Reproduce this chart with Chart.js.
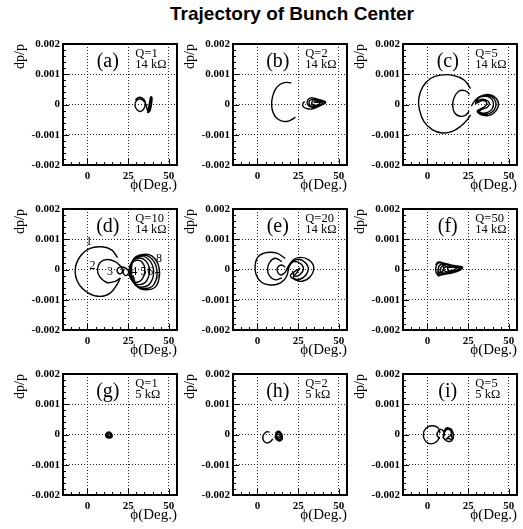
<!DOCTYPE html>
<html>
<head>
<meta charset="utf-8">
<script src="https://cdn.jsdelivr.net/npm/chart.js@4.4.0/dist/chart.umd.min.js"></script>
<style>
body { margin: 0; background: #fff; overflow: hidden; }
#page { position: relative; width: 523px; height: 529px; }
#title { position: absolute; left: 92px; top: 4px; width: 400px; text-align: center;
         font: bold 19px "Liberation Sans", Arial, sans-serif; line-height: 20px; }
.cell { position: absolute; width: 180px; height: 165px; }
.frame { position: absolute; box-sizing: border-box; border: 2px solid #000; z-index: 2; }
.tick { position: absolute; background: #000; z-index: 2; }
</style>
</head>
<body>
<div id="page"><div id="title">Trajectory of Bunch Center</div></div>
<script>
const SERIF = '"Liberation Serif", "Times New Roman", serif'

// axes
const phiTicks = [0, 25, 50]
const phiMinor = [-15, -10, -5, 0, 5, 10, 15, 20, 25, 30, 35, 40, 45, 50, 55]
const dpTicks = [-0.002, -0.001, 0, 0.001, 0.002]
const dpMinor = [-20, -18, -16, -14, -12, -10, -8, -6, -4, -2, 0, 2, 4, 6, 8, 10, 12, 14, 16, 18, 20]

// panel texts
const panelTags = ['(a)', '(b)', '(c)', '(d)', '(e)', '(f)', '(g)', '(h)', '(i)']
const panelQ = ['Q=1', 'Q=2', 'Q=5', 'Q=10', 'Q=20', 'Q=50', 'Q=1', 'Q=2', 'Q=5']
const panelR = ['14 kΩ', '14 kΩ', '14 kΩ', '14 kΩ', '14 kΩ', '14 kΩ', '5 kΩ', '5 kΩ', '5 kΩ']

// turn numbers in panel (d)
const dLabels = ['1', '2', '3', '4', '5', '6', '7', '8']
const dLabelPhi = [1.0, 3.1, 13.8, 28.8, 34.4, 38.6, 43.0, 44.0]
const dLabelDp = [9.2, 1.2, -0.9, -0.9, -0.9, -0.7, -2.5, 3.4]

// trajectories: [phi (deg), dp/p in units of 1e-4]
const curveA = [[29.4,1.4],[31,2.3],[33.5,2.2],[35.4,1.0],[35.2,-0.8],[33.2,-2.2],[30.8,-1.9],[29.2,-0.3],[30.5,1.5],[33.5,1.6],[35.8,0.2],[36.8,-1.8],[37.6,-2.6],[38.6,-1.8],[39.5,0.8],[39.6,2.3],[38.9,2.5],[38.2,0.8],[37.3,-2.0],[37.0,-2.7],[37.8,-2.0],[38.8,0.5],[39.3,2.0],[39.0,2.3],[38.4,0.5],[37.6,-1.8],[37.3,-2.5],[38.0,-1.5],[38.9,1.0],[39.2,1.8]]

const curveB1 = [[20.8,7.1],[17.5,7.3],[13.8,6.6],[11,5],[9.3,2.6],[8.7,0],[9.5,-2.5],[11.6,-4.4],[14.6,-5.4],[18,-5.6],[21,-5.0],[23.3,-4.2]]
const curveB2 = [[29,1.0],[27.8,0.2],[28.2,-0.8],[30,-1.3],[33,-1.5],[37,-0.8],[40.5,0.1],[42,0.7],[40,1.3],[36.5,1.8],[32.8,2.2],[30.8,1.4],[31,-0.1],[34,-1.0],[38,-0.4],[41.2,0.5],[38.5,1.3],[35,1.7],[32.2,1.4],[31.8,0.2],[33.5,-0.6],[37,-0.5],[40,0.4],[37.8,1.0],[34.2,1.2],[33.4,0.3],[35.5,-0.3],[38.5,0.3],[36,0.8],[34.5,0.6]]

const curveC1 = [[26.5,5.3],[22.5,8.1],[15.2,9.7],[8,9.7],[1.9,8.6],[-2.8,5.9],[-5.3,2.1],[-4.9,-1.7],[-2.2,-5.6],[2.9,-8.3],[9.1,-9.4],[15.2,-8.9],[20.4,-7.2],[24.5,-5.0],[26.5,-3.4]]
const curveC2 = [[26,3.4],[23,4.6],[19,4.3],[16.2,2],[15.5,-0.5],[16.8,-2.8],[20,-3.9],[23.5,-3.5],[25.6,-2.2]]
const curveC3 = [[27,-0.5],[29,1.2],[32,2.6],[36.5,3.3],[40.5,2.8],[43.5,0.8],[42.5,-1.8],[39,-3.4],[34.5,-3.6],[31,-2.5],[33.5,-1.6],[37,-0.8],[38,0.5],[35.5,1.6],[32,1.5],[29.5,0.3],[31.5,2.2],[35.5,3.0],[39.5,2.6],[42,0.9],[41.2,-1.6],[38,-3.0],[34,-3.2],[30.5,-2.2],[33.5,-1.2],[36,-0.3],[36.2,0.8],[33.5,1.3],[30.5,0.6],[30.5,2.0],[34.5,2.7],[38.5,2.3],[40.5,0.7],[39.8,-1.4],[37,-2.6],[33.5,-2.8],[31,-1.9]]

const curveD1 = [[18.5,3.9],[15,6.4],[8.8,7.5],[1.6,7.0],[-4.5,4.3],[-7.5,0],[-5.6,-4.5],[0.6,-7.8],[7.8,-8.9],[14,-7.8],[18.1,-5.0],[20.2,-2.8]]
const curveD2 = [[20.2,-2.8],[17,-3.9],[12,-4.3],[7.4,-2.3],[6.2,0],[7.8,2.3],[12,3.3],[17,2.6],[20.6,1.0]]
const curveD3 = [[20.6,1.0],[21.5,-0.3],[20.5,-1.4],[18.6,-1.0],[18.3,0.1],[20.2,0.8],[23.3,0.5],[25.3,-0.7],[23.9,-2.0],[22,-1.2],[22.5,0.3]]
const curveD4 = [[25.3,-0.7],[27,1.8],[30,3.0],[33.5,2.5],[35.3,0],[33.8,-3],[30,-4.2],[26.5,-3],[25.5,-0.5],[27,2.3],[30.5,3.7],[35,3.2],[38,0.3],[36.5,-3.6],[32,-5],[27.5,-3.8],[26,-0.5],[27.5,2.8],[31,4.2],[36.5,3.8],[40.5,0.3],[39,-4.2],[34,-5.8],[28.5,-4.6],[26.5,-0.8],[28,3.2],[32,4.6],[38,4.2],[42.5,0.4],[41,-4.8],[35.5,-6.3],[29.5,-5.2],[27,-1],[28.5,3.5],[33,4.9],[39.5,4.5],[44,0.5],[42.5,-5.3],[36.5,-6.7],[30.5,-5.6],[28,-2]]

const curveE1 = [[17.1,3.7],[11.9,5.4],[5.8,5.6],[0.6,4.3],[-1.4,1.5],[-0.8,-1.7],[2.7,-4.3],[7.8,-5.1],[13,-4.7],[16.5,-3.4],[18.5,-1.5]]
const curveE2 = [[18.5,-1.5],[19.5,1.0],[22,3.2],[26.3,4.0],[31.5,3.2],[34.6,0.8],[32.5,-2.3],[27.4,-3.9],[23.3,-3.4],[20.2,-2.1],[22.5,-0.8],[25.5,0.2]]
const curveE3 = [[15,2.6],[10.9,3.7],[7.4,2.3],[6.2,0.1],[7.4,-2.1],[10.9,-3.4],[15,-2.8]]
const curveE4 = [[17,-1],[20,1.5],[23.5,3.2],[27.5,3.0],[31.2,0.6],[29.5,-2.0],[25.5,-3.3],[22,-2.6],[24,-1.2],[26,0.5]]
const curveE5 = [[17.1,0.8],[14.5,1.5],[12.2,0.5],[12.5,-1.0],[14.5,-1.8],[17,-1.0]]
const curveE6 = [[18,0],[20.5,2.2],[24.5,2.5],[28.2,0.6],[26.5,-1.5],[23,-2.2],[21.5,-0.5]]

const curveF = [[5,1.5],[6.5,2.4],[9,2.1],[10,0.5],[8,-1.8],[6.5,-2.0],[5,0],[7,2.2],[12,1.8],[16,1.3],[21.5,0.8],[20,-0.2],[16,-1.0],[11,-1.5],[7.5,-1.7],[6.5,0],[8.5,1.8],[13,1.6],[19,1.0],[21,0.3],[17,-0.6],[12,-1.2],[8.5,-0.8],[8.5,0.8],[11,1.5],[15,1.2],[20,0.6],[18,-0.3],[14,-0.8],[10.5,-0.5],[10.5,0.7],[14,1.0],[18,0.6],[16,-0.2],[13,-0.4],[12.5,0.5],[15.5,0.7],[19.5,0.4],[17.5,-0.5],[13.5,-1.0],[9.5,-1.2],[7,-0.8],[7.2,1.2],[10,2.0],[14.5,1.5]]

const curveG = [[11.5,0.3],[12.5,0.8],[14,0.7],[15.2,-0.2],[14.8,-1.0],[13.2,-1.2],[11.6,-0.8],[11.2,0],[12.3,0.6],[14.2,0.4],[14.8,-0.6],[13.5,-1.0],[12,-0.6],[12,0.2],[13.3,0.4],[14.2,-0.3],[13.2,-0.7],[12.6,-0.2],[13.4,0]]

const curveH1 = [[7.4,0.8],[5.5,0.9],[3.5,-0.3],[3.6,-1.8],[5.2,-2.7],[7.5,-2.5],[9.5,-1.5]]
const curveH2 = [[11,0.3],[12.3,1.0],[14,0.8],[15.3,-0.6],[14.8,-1.8],[13,-2.1],[11.3,-1.4],[11.0,-0.3],[12.5,0.6],[14.3,0.2],[14.6,-1.2],[13.2,-1.7],[11.8,-1.0],[12.2,0],[13.6,-0.2],[13.8,-1.0],[12.8,-1.2],[12.6,-0.5]]

const curveI1 = [[7.8,0.4],[6.5,2.2],[2.7,2.9],[-1.0,2.0],[-2.5,0],[-1.2,-2.2],[2.1,-3.1],[5.5,-2.4],[7.5,-0.8]]
const curveI2 = [[7.5,-1.4],[5.9,-0.2],[7,1.3],[8.8,1.6],[10.4,0.3],[9.5,-1.2]]
const curveI3 = [[10,0.5],[11,1.9],[13,2.2],[15.2,1.2],[16,-0.5],[15,-2.0],[12.8,-2.3],[10.5,-1.6],[9.8,-0.4],[11.5,1.5],[13.5,1.6],[14.8,0.4],[13.5,-0.6],[11.5,-1.5],[13,-1.3],[15.2,-1.6],[14.8,-0.2],[15,1.5],[12.5,2.0],[10.2,0.8]]

const panelCurves = [
    [curveA],
    [curveB1, curveB2],
    [curveC1, curveC2, curveC3],
    [curveD1, curveD2, curveD3, curveD4],
    [curveE1, curveE2, curveE3, curveE4, curveE5, curveE6],
    [curveF],
    [curveG],
    [curveH1, curveH2],
    [curveI1, curveI2, curveI3]
]

const colLeft = [0, 170, 340]
const rowTop = [30, 195, 360]

// frame, inward ticks, tick labels and panel texts, placed with the chart's scales
const makeTexts = idx => ({
    id: 'texts' + idx,
    afterDraw(chart) {
        const { ctx, scales: { x, y } } = chart
        const a = chart.chartArea
        ctx.save()
        ctx.fillStyle = '#000'
        ctx.fillRect(a.left - 1, a.top - 1, a.width + 2, 2)
        ctx.fillRect(a.left - 1, a.bottom - 1, a.width + 2, 2)
        ctx.fillRect(a.left - 1, a.top - 1, 2, a.height + 2)
        ctx.fillRect(a.right - 1, a.top - 1, 2, a.height + 2)
        phiMinor.forEach(v => {
            const len = phiTicks.includes(v) ? 6 : 3
            ctx.fillRect(Math.round(x.getPixelForValue(v)), a.bottom - len, 1, len)
        })
        dpMinor.forEach(k => {
            const len = k % 10 === 0 ? 6 : 3
            ctx.fillRect(a.left, Math.round(y.getPixelForValue(k * 1e-4)), len, 1)
        })

        ctx.textBaseline = 'middle'
        ctx.font = `bold 11px ${SERIF}`
        ctx.textAlign = 'right'
        dpTicks.forEach(v => ctx.fillText(v === 0 ? '0' : v.toFixed(3), a.left - 3, y.getPixelForValue(v)))
        ctx.textAlign = 'center'
        phiTicks.forEach(v => ctx.fillText(String(v), x.getPixelForValue(v), a.bottom + 11))

        ctx.font = `20px ${SERIF}`
        ctx.fillText(panelTags[idx], x.getPixelForValue(12.5), y.getPixelForValue(0.00141))
        ctx.textAlign = 'left'
        ctx.font = `12.5px ${SERIF}`
        ctx.fillText(panelQ[idx], x.getPixelForValue(29.4), y.getPixelForValue(0.00168))
        ctx.fillText(panelR[idx], x.getPixelForValue(29.4), y.getPixelForValue(0.0013))
        if (idx === 3) {
            ctx.textAlign = 'center'
            ctx.font = `12px ${SERIF}`
            dLabels.forEach((t, i) => {
                ctx.fillText(t, x.getPixelForValue(dLabelPhi[i]), y.getPixelForValue(dLabelDp[i] * 1e-4))
            })
        }
        ctx.restore()
    }
})

const makeOptions = () => ({
    responsive: false,
    animation: false,
    events: [],
    layout: { padding: { left: 0, top: 14, right: 3, bottom: 0 } },
    plugins: { legend: { display: false }, tooltip: { enabled: false } },
    scales: {
        x: {
            type: 'linear', min: -15, max: 55,
            afterBuildTicks: s => { s.ticks = phiTicks.map(v => ({ value: v })) },
            afterFit: s => { s.height = 30 },
            grid: { color: '#222', lineWidth: 1, drawTicks: false },
            border: { display: false, dash: [1, 2] },
            ticks: { display: false },
            title: { display: true, text: 'ϕ(Deg.)', align: 'end', color: '#000',
                     font: { family: SERIF, size: 15 }, padding: { top: 0, bottom: 1 } }
        },
        y: {
            type: 'linear', min: -0.002, max: 0.002,
            afterBuildTicks: s => { s.ticks = dpTicks.map(v => ({ value: v })) },
            afterFit: s => { s.width = 63 },
            grid: {
                color: c => (c.tick && Math.abs(c.tick.value) > 0.0015) ? 'rgba(0,0,0,0)' : '#222',
                lineWidth: 1, drawTicks: false
            },
            border: { display: false, dash: [1, 2] },
            ticks: { display: false },
            title: { display: true, text: 'dp/p', align: 'end', color: '#000',
                     font: { family: SERIF, size: 14 }, padding: { top: 12, bottom: 0 } }
        }
    }
})

// same frame laid over each chart as page boxes, in case the canvas one is lost
const addFrame = (cell, chart) => {
    const a = chart.chartArea
    const box = document.createElement('div')
    box.className = 'frame'
    box.style.left = (Math.round(a.left) - 1) + 'px'
    box.style.top = (Math.round(a.top) - 1) + 'px'
    box.style.width = (Math.round(a.width) + 2) + 'px'
    box.style.height = (Math.round(a.height) + 2) + 'px'
    cell.appendChild(box)
}

panelCurves.forEach((curves, i) => {
    const cell = document.createElement('div')
    cell.className = 'cell'
    cell.style.left = colLeft[i % 3] + 'px'
    cell.style.top = rowTop[Math.floor(i / 3)] + 'px'
    const canvas = document.createElement('canvas')
    canvas.width = 180
    canvas.height = 165
    cell.appendChild(canvas)
    document.getElementById('page').appendChild(cell)

    const chart = new Chart(canvas, {
        type: 'scatter',
        data: {
            datasets: curves.map(c => ({
                data: c.map(([p, d]) => ({ x: p, y: d * 1e-4 })),
                showLine: true,
                borderColor: '#000',
                borderWidth: 1.4,
                pointRadius: 0,
                tension: 0.4
            }))
        },
        options: makeOptions(),
        plugins: [makeTexts(i)]
    })
    addFrame(cell, chart)
})
</script>
</body>
</html>
